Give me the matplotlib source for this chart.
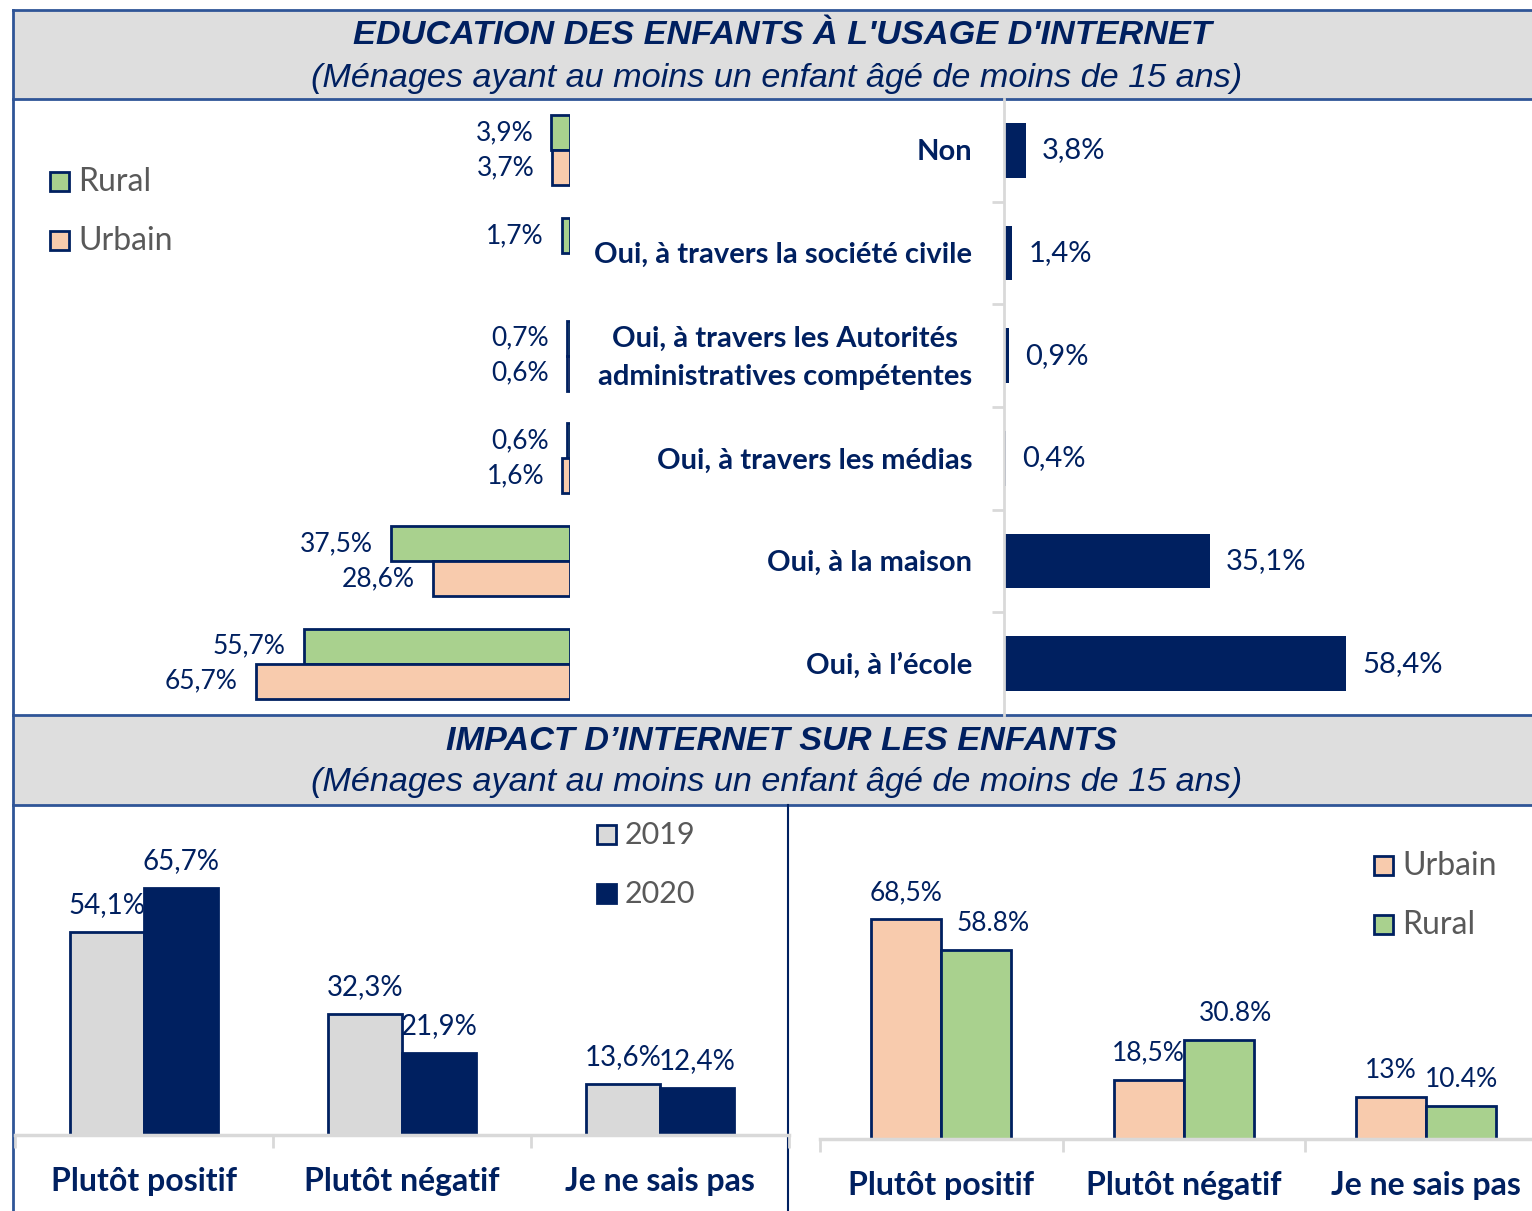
import matplotlib
matplotlib.use("Agg")
import matplotlib.pyplot as plt
from matplotlib.patches import Rectangle
import numpy as np

plt.rcParams['font.family'] = ['Lato', 'DejaVu Sans']

W, H = 1532, 1211
NAVY = '#002060'
GREEN = '#A9D18E'
PEACH = '#F8CBAD'
LGREY = '#D9D9D9'
BAND = '#DEDEDE'
BLUE = '#2F5597'
TXTGREY = '#595959'

# --- data ---
edu_cats = ["Non", "Oui, à travers la société civile",
            "Oui, à travers les Autorités\nadministratives compétentes",
            "Oui, à travers les médias", "Oui, à la maison", "Oui, à l’école"]
edu_rural = [3.9, 1.7, 0.7, 0.6, 37.5, 55.7]
edu_urbain = [3.7, np.nan, 0.6, 1.6, 28.6, 65.7]
edu_total = [3.8, 1.4, 0.9, 0.4, 35.1, 58.4]

imp_cats = ["Plutôt positif", "Plutôt négatif", "Je ne sais pas"]
imp_2019 = [54.1, 32.3, 13.6]
imp_2020 = [65.7, 21.9, 12.4]
imp_urbain = [68.5, 18.5, 13.0]
imp_rural = [58.8, 30.8, 10.4]
imp_urbain_lbl = ["68,5%", "18,5%", "13%"]
imp_rural_lbl = ["58.8%", "30.8%", "10.4%"]


def pct(v):
    return f"{v:.1f}".replace('.', ',') + '%'


fig = plt.figure(figsize=(W / 100, H / 100), dpi=100)


def px_axes(x0, y0, x1, y1):
    ax = fig.add_axes([x0 / W, 1 - y1 / H, (x1 - x0) / W, (y1 - y0) / H])
    ax.set_facecolor('none')
    return ax


# background frame, header bands
bg = fig.add_axes([0, 0, 1, 1])
bg.set_xlim(0, W)
bg.set_ylim(H, 0)
bg.axis('off')
for y0, y1 in [(10, 99), (715, 805)]:
    bg.add_patch(Rectangle((13, y0), W - 13, y1 - y0, fc=BAND, ec='none'))
    bg.plot([13, W], [y0, y0], color=BLUE, lw=2)
    bg.plot([13, W], [y1, y1], color=BLUE, lw=2)
bg.plot([13, 13], [10, H], color=BLUE, lw=2)
bg.plot([788, 788], [805, H], color=NAVY, lw=1.5)

subtitle = "(Ménages ayant au moins un enfant âgé de moins de 15 ans)"
for ty, title in [(36, "EDUCATION DES ENFANTS À L'USAGE D'INTERNET"),
                  (741, "IMPACT D’INTERNET SUR LES ENFANTS")]:
    bg.text(782, ty, title, ha='center', va='center', fontsize=24.7,
            fontweight='bold', fontstyle='italic', family='Liberation Sans', color=NAVY)
    bg.text(777, ty + 42, subtitle, ha='center', va='center', fontsize=24.7,
            fontstyle='italic', family='Liberation Sans', color=NAVY)


def legend_item(x, y, color, label, size):
    bg.add_patch(Rectangle((x, y), 19, 19, fc=color, ec=NAVY, lw=2))
    bg.text(x + 28, y + 10, label, ha='left', va='center', fontsize=size, color=TXTGREY)


legend_item(50, 172, GREEN, "Rural", 23)
legend_item(50, 231, PEACH, "Urbain", 23)
legend_item(597, 825, LGREY, "2019", 22)
legend_item(597, 884, NAVY, "2020", 22)
legend_item(1374, 856, PEACH, "Urbain", 23)
legend_item(1374, 915, GREEN, "Rural", 23)

# --- top left: rural / urbain, bars growing to the left ---
y = np.arange(len(edu_cats))
axL = px_axes(13, 99, 570, 715)
axL.barh(y - 0.17, edu_rural, height=0.34, color=GREEN, edgecolor=NAVY, lw=2)
axL.barh(y + 0.17, edu_urbain, height=0.34, color=PEACH, edgecolor=NAVY, lw=2)
axL.set_xlim(116.5, 0)
axL.set_ylim(5.5, -0.5)
axL.axis('off')
for i in range(len(edu_cats)):
    for vals, off in [(edu_rural, -0.17), (edu_urbain, 0.17)]:
        v = vals[i]
        if not np.isnan(v):
            axL.annotate(pct(v), (v, i + off), xytext=(-13, 0), textcoords='offset points',
                         ha='right', va='center', fontsize=19, color=NAVY)

# --- top right: total ---
axR = px_axes(1004, 99, 1532, 715)
axR.barh(y, edu_total, height=0.53, color=NAVY)
axR.set_xlim(0, 90.1)
axR.set_ylim(5.5, -0.5)
for s in ['top', 'right', 'bottom']:
    axR.spines[s].set_visible(False)
axR.spines['left'].set_color(LGREY)
axR.spines['left'].set_linewidth(2)
axR.set_xticks([])
axR.set_yticks([])
axR.set_yticks(np.arange(0.5, 5), minor=True)
axR.tick_params(axis='y', which='minor', length=9, width=2, color=LGREY, labelleft=False)
for i, (c, v) in enumerate(zip(edu_cats, edu_total)):
    axR.text(-32 / 528, i + 0.02, c, transform=axR.get_yaxis_transform(), ha='right',
             va='center', multialignment='center', linespacing=1.6, fontsize=21,
             fontweight='bold', color=NAVY)
    axR.annotate(pct(v), (v, i), xytext=(11.5, 0), textcoords='offset points',
                 ha='left', va='center', fontsize=21, color=NAVY)

x = np.arange(len(imp_cats))


def style_bottom(ax):
    for s in ['top', 'right', 'left']:
        ax.spines[s].set_visible(False)
    ax.spines['bottom'].set_color(LGREY)
    ax.spines['bottom'].set_linewidth(2.5)
    ax.set_yticks([])
    ax.set_xlim(-0.5, 2.5)
    ax.set_xticks(x)
    ax.set_xticklabels(imp_cats, fontsize=23, fontweight='bold', color=NAVY)
    ax.set_xticks([-0.5, 0.5, 1.5, 2.5], minor=True)
    ax.tick_params(axis='x', which='major', length=0, pad=23)
    ax.tick_params(axis='x', which='minor', length=9, width=2, color=LGREY)


# --- bottom left: 2019 vs 2020 ---
w1 = 0.287
axB1 = px_axes(15, 805, 789, 1135)
axB1.bar(x - w1 / 2, imp_2019, w1, color=LGREY, edgecolor=NAVY, lw=2)
axB1.bar(x + w1 / 2, imp_2020, w1, color=NAVY, edgecolor=NAVY, lw=2)
axB1.set_ylim(0, 87.8)
style_bottom(axB1)
for i in range(len(imp_cats)):
    axB1.annotate(pct(imp_2019[i]), (x[i] - w1 / 2, imp_2019[i]), xytext=(0, 10),
                  textcoords='offset points', ha='center', va='bottom', fontsize=20, color=NAVY)
    axB1.annotate(pct(imp_2020[i]), (x[i] + w1 / 2, imp_2020[i]), xytext=(0, 10),
                  textcoords='offset points', ha='center', va='bottom', fontsize=20, color=NAVY)

# --- bottom right: urbain vs rural ---
w2 = 0.289
rural_dx = [12, 12, 0]
axB2 = px_axes(820, 805, 820 + 3 * 242.5, 1139)
axB2.bar(x - w2 / 2, imp_urbain, w2, color=PEACH, edgecolor=NAVY, lw=2)
axB2.bar(x + w2 / 2, imp_rural, w2, color=GREEN, edgecolor=NAVY, lw=2)
axB2.set_ylim(0, 104)
style_bottom(axB2)
for i in range(len(imp_cats)):
    axB2.annotate(imp_urbain_lbl[i], (x[i] - w2 / 2, imp_urbain[i]), xytext=(0, 10),
                  textcoords='offset points', ha='center', va='bottom', fontsize=19, color=NAVY)
    axB2.annotate(imp_rural_lbl[i], (x[i] + w2 / 2, imp_rural[i]), xytext=(rural_dx[i], 10),
                  textcoords='offset points', ha='center', va='bottom', fontsize=19, color=NAVY)

fig.savefig('out.png', dpi=100)
